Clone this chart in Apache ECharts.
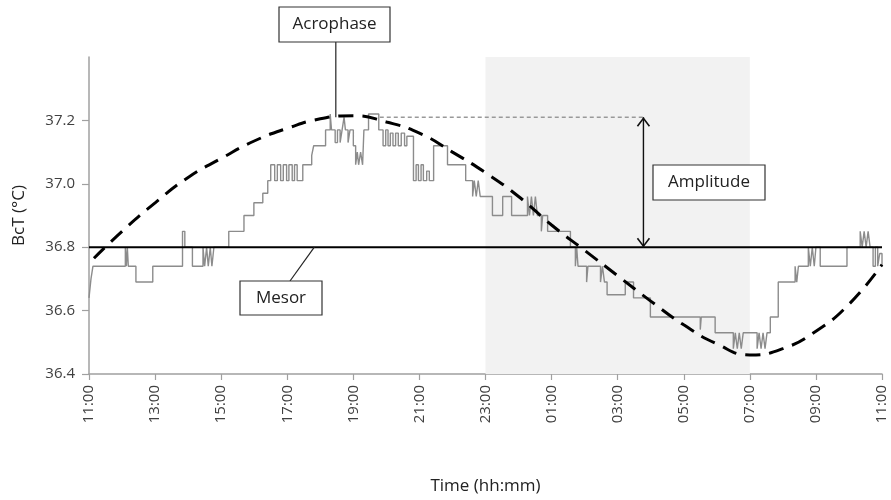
<!DOCTYPE html>
<html><head><meta charset="utf-8">
<script src="https://cdn.jsdelivr.net/npm/echarts@6/dist/echarts.min.js"></script>
<style>html,body{margin:0;padding:0;background:#fff}#c{width:891px;height:500px}</style>
</head><body><div id="c"></div>
<script>
// hours elapsed since 11:00
const xTickLabels = ['11:00','13:00','15:00','17:00','19:00','21:00','23:00','01:00','03:00','05:00','07:00','09:00','11:00'];
const yTickValues = [36.4, 36.6, 36.8, 37.0, 37.2];
const stepHours = [0.00,0.06,0.12,1.10,1.13,1.16,1.19,1.42,1.93,2.83,2.90,3.13,3.45,3.50,3.56,3.61,3.67,3.72,3.78,4.23,4.69,4.99,5.26,5.41,5.50,5.62,5.70,5.80,5.88,5.98,6.05,6.15,6.22,6.30,6.47,6.74,6.80,7.16,7.30,7.34,7.45,7.52,7.60,7.66,7.72,7.76,7.84,7.90,8.00,8.07,8.12,8.16,8.22,8.28,8.32,8.46,8.77,8.90,8.98,9.05,9.12,9.20,9.28,9.36,9.45,9.55,9.62,9.82,9.90,9.97,10.05,10.12,10.22,10.30,10.43,10.85,11.40,11.61,11.66,11.72,11.78,11.84,12.21,12.52,12.79,13.27,13.33,13.39,13.45,13.51,13.57,13.69,13.73,13.88,14.57,14.72,14.76,14.80,15.06,15.10,15.48,15.54,15.60,15.68,16.23,16.48,16.99,18.50,18.53,18.95,19.50,19.56,19.62,19.68,19.74,19.80,20.22,20.28,20.34,20.40,20.46,20.52,20.62,20.86,21.37,21.42,21.47,21.77,21.83,21.89,21.95,22.00,22.13,22.94,23.34,23.40,23.46,23.52,23.58,23.64,23.73,23.80,23.87,23.93,24.00];
const stepTemps = [36.64,36.70,36.74,36.80,36.74,36.80,36.74,36.69,36.74,36.85,36.80,36.74,36.80,36.74,36.80,36.74,36.80,36.74,36.80,36.85,36.90,36.94,36.97,37.01,37.06,37.01,37.06,37.01,37.06,37.01,37.06,37.01,37.06,37.01,37.06,37.09,37.12,37.17,37.22,37.17,37.13,37.17,37.13,37.17,37.21,37.17,37.13,37.17,37.12,37.06,37.10,37.06,37.10,37.06,37.17,37.22,37.17,37.12,37.17,37.12,37.16,37.12,37.16,37.12,37.16,37.12,37.15,37.01,37.06,37.01,37.06,37.01,37.04,37.01,37.12,37.06,37.01,36.96,37.01,36.96,37.01,36.96,36.90,36.96,36.90,36.96,36.90,36.96,36.90,36.96,36.90,36.85,36.90,36.85,36.80,36.74,36.80,36.74,36.69,36.74,36.69,36.74,36.69,36.65,36.69,36.64,36.58,36.54,36.58,36.53,36.48,36.53,36.48,36.53,36.48,36.53,36.48,36.53,36.48,36.53,36.48,36.53,36.58,36.69,36.74,36.69,36.74,36.80,36.74,36.80,36.74,36.80,36.74,36.80,36.85,36.80,36.85,36.80,36.85,36.80,36.74,36.80,36.74,36.78,36.74];
const fitHours = [0.15,1,2,3,4,5,6,7,8,9,10,11,12,13,14,15,16,17,18,19,20,21,22,23,24];
const fitTemps = [36.765,36.85,36.94,37.02,37.08,37.135,37.175,37.205,37.215,37.195,37.16,37.10,37.035,36.96,36.87,36.79,36.71,36.63,36.555,36.495,36.46,36.48,36.535,36.62,36.745];
const mesorTemp = 36.8;
const acrophaseHour = 7.47, acrophaseTemp = 37.21;
const amplitudeHour = 16.78, amplitudeRefStart = 8.8;
const nightStart = 12, nightEnd = 20;

const FONT = '"Open Sans", "Liberation Sans", sans-serif';
const chart = echarts.init(document.getElementById('c'), null, {renderer: 'canvas'});
const zip = (a, b) => a.map((v, i) => [v, b[i]]);

chart.setOption({
  animation: false,
  backgroundColor: '#fff',
  grid: {left: 89, right: 9, top: 57, bottom: 123},
  xAxis: {
    type: 'value', min: 0, max: 24, interval: 2,
    name: 'Time (hh:mm)', nameLocation: 'middle', nameGap: 104,
    nameTextStyle: {fontFamily: FONT, fontSize: 17, color: '#222'},
    axisLine: {show: true, onZero: false, lineStyle: {color: '#a0a0a0', width: 1.5}},
    axisTick: {show: true, length: 6, lineStyle: {color: '#a0a0a0', width: 1.2}},
    axisLabel: {rotate: 90, margin: 11, fontFamily: FONT, fontSize: 15, color: '#404040',
      formatter: v => xTickLabels[Math.round(v / 2)]},
    splitLine: {show: false}
  },
  yAxis: {
    type: 'value', min: 36.4, max: 37.4,
    name: 'BcT (°C)', nameLocation: 'middle', nameGap: 61,
    nameTextStyle: {fontFamily: FONT, fontSize: 17, color: '#222'},
    axisLine: {show: true, lineStyle: {color: '#a0a0a0', width: 1.5}},
    axisTick: {show: true, length: 7, customValues: yTickValues, lineStyle: {color: '#a0a0a0', width: 1.2}},
    axisLabel: {margin: 14, fontFamily: FONT, fontSize: 15, color: '#404040', customValues: yTickValues,
      formatter: v => v.toFixed(1)},
    splitLine: {show: false}
  },
  series: [
    {type: 'line', z: 1, data: [[nightStart, mesorTemp]], symbol: 'none', lineStyle: {opacity: 0}, silent: true,
      markArea: {silent: true, itemStyle: {color: '#f2f2f2'}, data: [[{xAxis: nightStart}, {xAxis: nightEnd}]]}},
    {type: 'line', z: 3, step: 'end', data: zip(stepHours, stepTemps), symbol: 'none', silent: true,
      lineStyle: {color: '#8c8c8c', width: 1.4}},
    {type: 'line', z: 4, data: [[0, mesorTemp], [24, mesorTemp]], symbol: 'none', silent: true,
      lineStyle: {color: '#000', width: 2}},
    {type: 'line', z: 5, smooth: 0.5, data: zip(fitHours, fitTemps), symbol: 'none', silent: true,
      lineStyle: {color: '#000', width: 3, type: [15, 9]}},
    {type: 'line', z: 4, data: [[amplitudeRefStart, acrophaseTemp], [amplitudeHour, acrophaseTemp]], symbol: 'none', silent: true,
      lineStyle: {color: '#999', width: 1.3, type: [4, 3]}},
    {type: 'line', z: 6, data: [[amplitudeHour, acrophaseTemp], [amplitudeHour, mesorTemp]], symbol: 'none', silent: true,
      lineStyle: {color: '#111', width: 1.4}}
  ]
});

const px = (x, y) => chart.convertToPixel({xAxisIndex: 0, yAxisIndex: 0}, [x, y]);
const acro = px(acrophaseHour, acrophaseTemp);
const ampTop = px(amplitudeHour, acrophaseTemp);
const ampBot = px(amplitudeHour, mesorTemp);
const mes = px(6.82, mesorTemp);
const boxStyle = {fill: '#fff', stroke: '#333', lineWidth: 1.2};
const txt = (x, y, s) => ({type: 'text', x: x, y: y, z: 20,
  style: {text: s, fontFamily: FONT, fontSize: 17, fill: '#222', align: 'center', verticalAlign: 'middle'}});
chart.setOption({
  graphic: [
    {type: 'line', z: 19, shape: {x1: acro[0], y1: 42, x2: acro[0], y2: acro[1]}, style: {stroke: '#222', lineWidth: 1.2}},
    {type: 'rect', z: 19, shape: {x: 279, y: 7, width: 111, height: 35}, style: boxStyle},
    txt(334.5, 24.5, 'Acrophase'),
    {type: 'polyline', z: 19, shape: {points: [[ampTop[0] - 6, ampTop[1] + 9], [ampTop[0], ampTop[1] + 1], [ampTop[0] + 6, ampTop[1] + 9]]}, style: {stroke: '#111', lineWidth: 1.6, fill: null}},
    {type: 'polyline', z: 19, shape: {points: [[ampBot[0] - 6, ampBot[1] - 9], [ampBot[0], ampBot[1] - 1], [ampBot[0] + 6, ampBot[1] - 9]]}, style: {stroke: '#111', lineWidth: 1.6, fill: null}},
    {type: 'rect', z: 19, shape: {x: 653, y: 165, width: 112, height: 35}, style: boxStyle},
    txt(709, 182.5, 'Amplitude'),
    {type: 'line', z: 19, shape: {x1: 290, y1: 281, x2: mes[0], y2: mes[1]}, style: {stroke: '#222', lineWidth: 1.2}},
    {type: 'rect', z: 19, shape: {x: 240, y: 281, width: 82, height: 34}, style: boxStyle},
    txt(281, 298, 'Mesor')
  ]
});
</script>
</body></html>
